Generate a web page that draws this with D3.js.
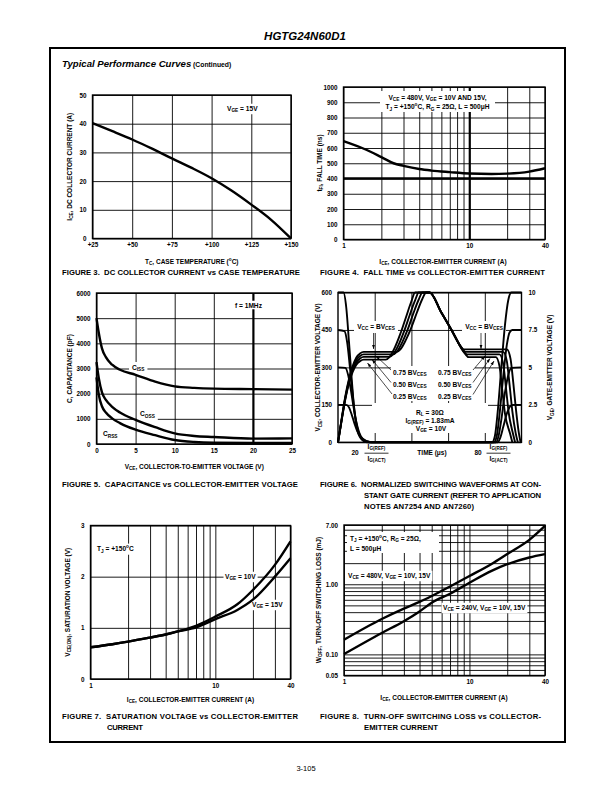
<!DOCTYPE html>
<html><head><meta charset="utf-8">
<script src="https://cdn.jsdelivr.net/npm/d3@7"></script>
<style>
body{margin:0;background:#fff}
svg{display:block}
text{font-family:"Liberation Sans",Arial,Helvetica,sans-serif;fill:#000}
</style></head><body>
<svg id="page" width="612" height="792"></svg>
<script>
// ---------------- DATA ----------------
// Figure 3: DC collector current vs case temperature
const fig3Temp    = [25, 37.5, 50, 62.5, 75, 87.5, 100, 112.5, 125, 137.5, 150];
const fig3Current = [40.2, 37.4, 34.5, 31.3, 27.9, 24.6, 21, 16.7, 11.8, 6.5, 0];
const fig3XTicks  = [25, 50, 75, 100, 125, 150];
const fig3XLabels = ["+25", "+50", "+75", "+100", "+125", "+150"];
const fig3YTicks  = [0, 10, 20, 30, 40, 50];

// Figure 4: fall time vs collector-emitter current
const fig4Current   = [1, 1.5, 2, 2.5, 3, 4, 5, 7, 10, 15, 20, 30, 40];
const fig4FallTime  = [645, 590, 540, 500, 483, 462, 452, 442, 433, 430, 432, 445, 467];
const fig4FlatCurrent = [1, 40];
const fig4FlatTime    = [400, 400];
const fig4YTicks  = [0, 100, 200, 300, 400, 500, 600, 700, 800, 900, 1000];
const logGrid40   = [1, 2, 3, 4, 5, 6, 7, 8, 9, 10, 20, 30, 40];
const logXTicks   = [1, 10, 40];
const logXLabels  = ["1", "10", "40"];

// Figure 5: capacitance vs collector-emitter voltage
const fig5Voltage = [0, 0.3, 0.7, 1.2, 2, 3, 5, 7.5, 10, 12.5, 15, 20, 25];
const fig5Ciss    = [5000, 4400, 3800, 3450, 3150, 2950, 2750, 2480, 2290, 2230, 2200, 2180, 2160];
const fig5Coss    = [3250, 2600, 2050, 1750, 1480, 1250, 960, 670, 420, 320, 280, 215, 225];
const fig5Crss    = [2650, 1950, 1500, 1250, 1020, 830, 570, 350, 160, 80, 50, 40, 40];
const fig5XTicks  = [0, 5, 10, 15, 20, 25];
const fig5YTicks  = [0, 1000, 2000, 3000, 4000, 5000, 6000];

// Figure 6: normalized switching waveforms  [time (0-100), V_CE scale 0-600]
const fig6VceBV  = [[0,600],[3,600],[4.5,540],[6,400],[7.5,250],[9,120],[10.5,50],[12.5,15],[16,0],[84,0],[85.5,25],[87,120],[89,300],[91,470],[92.8,570],[94.5,600],[100,600]];
const fig6Vce075 = [[0,450],[3.5,445],[5,400],[6.5,300],[8,190],[9.5,100],[11,45],[13,15],[17,0],[85,0],[86.5,25],[88,110],[90,260],[92,390],[93.5,440],[95,450],[100,450]];
const fig6Vce050 = [[0,300],[4,298],[5.5,270],[7,210],[8.5,140],[10,80],[11.5,40],[13.5,14],[18,0],[86,0],[87.5,25],[89,90],[91,200],[93,275],[94.5,298],[100,300]];
const fig6Vce025 = [[0,150],[4.5,150],[6,140],[7.5,110],[9,75],[10.5,45],[12.5,20],[15,6],[19,0],[87,0],[88.5,20],[90,60],[92,115],[94,145],[95.5,150],[100,150]];
const fig6VgeBV  = [[0,0],[2,95],[4,185],[6,255],[8,305],[10,340],[12,356],[14,362],[32,362],[34,372],[37,410],[40,460],[43,520],[46,575],[48,600],[50,600],[56,524],[62,448],[66.8,385],[68.5,372],[92,372],[94,335],[95.5,240],[97,130],[98.5,40],[99.5,0]];
const fig6Vge075 = [[0,0],[2,92],[4,180],[6,248],[8,298],[10,330],[12,346],[14,352],[30,352],[32,362],[35,400],[38,452],[41,515],[44,572],[46,600],[50,600],[56,524],[62,448],[67.6,376],[69.5,362],[90,362],[92,325],[93.5,230],[95,125],[96.8,38],[98,0]];
const fig6Vge050 = [[0,0],[2,90],[4,176],[6,242],[8,290],[10,321],[12,336],[14,342],[28,342],[30,352],[33,390],[36,444],[39,508],[42,568],[44,600],[50,600],[56,524],[62,448],[68.3,366],[70.3,352],[88,352],[90,315],[91.5,220],[93,120],[95.3,36],[96.5,0]];
const fig6Vge025 = [[0,0],[2,88],[4,172],[6,236],[8,282],[10,311],[12,325],[14,331],[26,331],[28,341],[31,380],[34,435],[37,500],[40,565],[42,600],[50,600],[56,524],[62,448],[69.2,355],[71.2,341],[86,341],[88,305],[89.5,210],[91,115],[93.8,34],[95,0]];
const fig6LeftTicks  = [0, 150, 300, 450, 600];
const fig6RightTicks = [0, 2.5, 5, 7.5, 10];
const fig6TimeGrid   = [20, 40, 60, 80];

// Figure 7: saturation voltage vs collector-emitter current
const fig7Current = [1, 1.5, 2, 3, 4, 5, 7, 10, 15, 20, 30, 40];
const fig7Vge10   = [0.62, 0.68, 0.73, 0.81, 0.87, 0.93, 1.04, 1.22, 1.46, 1.74, 2.23, 2.69];
const fig7Vge15   = [0.62, 0.68, 0.73, 0.81, 0.87, 0.93, 1.01, 1.17, 1.35, 1.55, 2.0, 2.36];
const fig7YTicks  = [0, 1, 2, 3];

// Figure 8: turn-off switching loss vs collector-emitter current
const fig8Current = [1, 2, 3, 4, 5, 7, 10, 15, 20, 30, 40];
const fig8E480    = [0.162, 0.32, 0.45, 0.56, 0.68, 0.93, 1.31, 1.95, 2.7, 4.3, 6.8];
const fig8E240    = [0.101, 0.202, 0.297, 0.41, 0.545, 0.733, 1.05, 1.55, 1.93, 2.41, 2.69];
const fig8YGrid   = [0.05, 0.06, 0.07, 0.08, 0.09, 0.1, 0.2, 0.3, 0.4, 0.5, 0.6, 0.7, 0.8, 0.9, 1, 2, 3, 4, 5, 6, 7];
const fig8YTicks  = [0.05, 0.1, 1, 7];
const fig8YLabels = ["0.05", "0.10", "1.00", "7.00"];

// ---------------- HELPERS ----------------
const svg = d3.select('#page');
const FONT = '"Liberation Sans", Arial, Helvetica, sans-serif';
const defs = svg.append('defs');
defs.append('marker').attr('id','arr').attr('viewBox','0 0 10 10').attr('refX',10).attr('refY',5)
  .attr('markerWidth',6).attr('markerHeight',6).attr('orient','auto')
  .append('path').attr('d','M0,1.5L10,5L0,8.5z').attr('fill','#000');

function rich(parent, x, y, str, o = {}) {
  const size = o.size || 6.5;
  const t = parent.append('text').attr('x', x).attr('y', y)
    .attr('font-size', size).attr('text-anchor', o.anchor || 'start')
    .attr('font-weight', o.weight || 'bold').style('white-space', 'pre');
  if (o.italic) t.attr('font-style', 'italic');
  if (o.rotate) t.attr('transform', `rotate(${o.rotate},${x},${y})`);
  const re = /([_^])\{([^}]*)\}/g;
  let last = 0, m; const parts = [];
  while ((m = re.exec(str))) {
    if (m.index > last) parts.push(['n', str.slice(last, m.index)]);
    parts.push([m[1], m[2]]); last = re.lastIndex;
  }
  if (last < str.length) parts.push(['n', str.slice(last)]);
  let shift = 0;
  parts.forEach(([k, s]) => {
    const ts = t.append('tspan').text(s);
    const target = k === '_' ? size * 0.3 : k === '^' ? -size * 0.4 : 0;
    if (target !== shift) ts.attr('dy', target - shift);
    shift = target;
    if (k !== 'n') ts.attr('font-size', size * 0.72);
  });
  return t;
}
function layers() {
  const g = svg.append('g');
  return { grid: g.append('g'), bg: g.append('g'), data: g.append('g'), text: g.append('g') };
}
function note(c, x, y, str, o = {}) {
  const t = rich(c.text, x, y, str, Object.assign({ size: 6.6 }, o));
  const b = t.node().getBBox(), p = o.pad == null ? 1.5 : o.pad;
  c.bg.append('rect').attr('x', b.x - p).attr('y', b.y - p * 0.5).attr('width', b.width + 2 * p)
    .attr('height', b.height + p).attr('fill', '#fff');
  return t;
}
function whiteBox(c, x0, y0, x1, y1) {
  c.bg.append('rect').attr('x', x0).attr('y', y0).attr('width', x1 - x0).attr('height', y1 - y0).attr('fill', '#fff');
}
function gridX(g, x, vals, T, B, sw, thick) {
  const a = g.append('g').attr('transform', `translate(0,${B})`)
    .call(d3.axisBottom(x).tickValues(vals).tickSize(-(B - T)).tickFormat(''));
  a.select('.domain').remove();
  a.selectAll('line').attr('stroke', '#000').attr('stroke-width', d => (thick && thick.includes(d)) ? 2.2 : (sw || 0.9));
}
function gridY(g, y, vals, L, R, sw) {
  const a = g.append('g').attr('transform', `translate(${L},0)`)
    .call(d3.axisLeft(y).tickValues(vals).tickSize(-(R - L)).tickFormat(''));
  a.select('.domain').remove();
  a.selectAll('line').attr('stroke', '#000').attr('stroke-width', sw || 0.9);
}
function frameRect(g, L, T, R, B) {
  g.append('rect').attr('x', L).attr('y', T).attr('width', R - L).attr('height', B - T)
    .attr('fill', 'none').attr('stroke', '#000').attr('stroke-width', 1.4);
}
function styleLabels(a) {
  a.select('.domain').remove();
  a.attr('font-family', FONT).attr('font-size', 6.3).attr('font-weight', 'bold');
  a.selectAll('text').attr('fill', '#000');
}
function labelsX(g, x, vals, labels, B, pad) {
  const a = g.append('g').attr('transform', `translate(0,${B})`)
    .call(d3.axisBottom(x).tickValues(vals).tickSize(0).tickPadding(pad).tickFormat((d, i) => labels[i]));
  styleLabels(a);
}
function labelsY(g, y, vals, labels, L, pad, right) {
  const ax = right ? d3.axisRight(y) : d3.axisLeft(y);
  const a = g.append('g').attr('transform', `translate(${L},0)`)
    .call(ax.tickValues(vals).tickSize(0).tickPadding(pad).tickFormat((d, i) => labels[i]));
  styleLabels(a);
}
function curve(g, x, y, xs, ys, sw) {
  const pts = xs.map((d, i) => [d, ys[i]]);
  g.append('path').datum(pts).attr('fill', 'none').attr('stroke', '#000').attr('stroke-width', sw || 2.2)
    .attr('stroke-linejoin', 'round')
    .attr('d', d3.line().x(d => x(d[0])).y(d => y(d[1])).curve(d3.curveMonotoneX));
}
function curvePairs(g, x, y, pts, sw) {
  g.append('path').datum(pts).attr('fill', 'none').attr('stroke', '#000').attr('stroke-width', sw || 2)
    .attr('stroke-linejoin', 'round')
    .attr('d', d3.line().x(d => x(d[0])).y(d => y(d[1])).curve(d3.curveMonotoneX));
}
function caption(g, x, y, str, w) {
  return g.append('text').attr('x', x).attr('y', y).attr('font-size', 7.7).attr('font-weight', 'bold')
    .attr('textLength', w).attr('lengthAdjust', 'spacing').style('white-space', 'pre').text(str);
}

// ---------------- PAGE ----------------
svg.append('rect').attr('x', 50).attr('y', 48).attr('width', 515).attr('height', 694)
  .attr('fill', 'none').attr('stroke', '#000').attr('stroke-width', 2);
rich(svg, 305, 39.5, 'HGTG24N60D1', { size: 11.5, anchor: 'middle', italic: true });
const tpc = svg.append('text').attr('x', 62).attr('y', 66.5).attr('font-weight', 'bold');
tpc.append('tspan').attr('font-size', 9.6).attr('font-style', 'italic').text('Typical Performance Curves');
tpc.append('tspan').attr('font-size', 6.8).text(' (Continued)');
rich(svg, 306, 771, '3-105', { size: 7.5, anchor: 'middle', weight: 'normal' });

// ---------------- FIGURE 3 ----------------
{
  const L = 92.5, R = 291, T = 95, B = 238.5;
  const x = d3.scaleLinear().domain([25, 150]).range([L, R]);
  const y = d3.scaleLinear().domain([0, 50]).range([B, T]);
  const c = layers();
  gridX(c.grid, x, fig3XTicks, T, B);
  gridY(c.grid, y, fig3YTicks, L, R);
  frameRect(c.grid, L, T, R, B);
  labelsX(c.text, x, fig3XTicks, fig3XLabels, B, 4.5);
  labelsY(c.text, y, fig3YTicks, fig3YTicks.map(String), L, 6);
  curve(c.data, x, y, fig3Temp, fig3Current, 2.4);
  note(c, 227, 110.5, 'V_{GE} = 15V');
  rich(c.text, 71.5, (T + B) / 2, 'I_{CE}, DC COLLECTOR CURRENT (A)', { rotate: -90, anchor: 'middle' });
  rich(c.text, (L + R) / 2, 263.5, 'T_{C}, CASE TEMPERATURE (^{o}C)', { anchor: 'middle' });
  caption(c.text, 62, 275, 'FIGURE 3.  DC COLLECTOR CURRENT vs CASE TEMPERATURE', 238);
}

// ---------------- FIGURE 4 ----------------
{
  const L = 343.5, R = 545, T = 87, B = 239.5;
  const x = d3.scaleLog().domain([1, 40]).range([L, R]);
  const y = d3.scaleLinear().domain([0, 1000]).range([B, T]);
  const c = layers();
  gridX(c.grid, x, logGrid40, T, B, 0.9, [10]);
  gridY(c.grid, y, fig4YTicks, L, R);
  frameRect(c.grid, L, T, R, B);
  labelsX(c.text, x, logXTicks, logXLabels, B, 4.5);
  labelsY(c.text, y, fig4YTicks, fig4YTicks.map(String), L, 6);
  curve(c.data, x, y, fig4FlatCurrent, fig4FlatTime, 2.4);
  curve(c.data, x, y, fig4Current, fig4FallTime, 2.4);
  whiteBox(c, 380, 91, 495, 112);
  rich(c.text, 437.5, 99.5, 'V_{CE} = 480V, V_{GE} = 10V AND 15V,', { anchor: 'middle', size: 6.6 });
  rich(c.text, 437.5, 109, 'T_{J} = +150^{o}C, R_{G} = 25Ω, L = 500μH', { anchor: 'middle', size: 6.6 });
  rich(c.text, 321.5, 163, 't_{FI}, FALL TIME (ns)', { rotate: -90, anchor: 'middle' });
  rich(c.text, 443, 263.5, 'I_{CE}, COLLECTOR-EMITTER CURRENT (A)', { anchor: 'middle' });
  caption(c.text, 320, 275, 'FIGURE 4.  FALL TIME vs COLLECTOR-EMITTER CURRENT', 225);
}

// ---------------- FIGURE 5 ----------------
{
  const L = 96.5, R = 292, T = 293, B = 444;
  const x = d3.scaleLinear().domain([0, 25]).range([L, R]);
  const y = d3.scaleLinear().domain([0, 6000]).range([B, T]);
  const c = layers();
  gridX(c.grid, x, fig5XTicks, T, B, 0.9, [20]);
  gridY(c.grid, y, fig5YTicks, L, R);
  frameRect(c.grid, L, T, R, B);
  labelsX(c.text, x, fig5XTicks, fig5XTicks.map(String), B, 4.5);
  labelsY(c.text, y, fig5YTicks, fig5YTicks.map(String), L, 6);
  curve(c.data, x, y, fig5Voltage, fig5Ciss, 2.4);
  curve(c.data, x, y, fig5Voltage, fig5Coss, 2.4);
  curve(c.data, x, y, fig5Voltage, fig5Crss, 2.4);
  note(c, 235, 307.5, 'f = 1MHz');
  note(c, 132, 369.5, 'C_{ISS}', { pad: 3 });
  note(c, 140, 416, 'C_{OSS}', { pad: 3 });
  note(c, 103, 436, 'C_{RSS}');
  rich(c.text, 71.5, (T + B) / 2, 'C, CAPACITANCE (pF)', { rotate: -90, anchor: 'middle' });
  rich(c.text, (L + R) / 2, 468.5, 'V_{CE}, COLLECTOR-TO-EMITTER VOLTAGE (V)', { anchor: 'middle' });
  caption(c.text, 62, 487, 'FIGURE 5.  CAPACITANCE vs COLLECTOR-EMITTER VOLTAGE', 236);
}

// ---------------- FIGURE 6 ----------------
{
  const L = 338, R = 521.5, T = 292.5, B = 442.3;
  const x = d3.scaleLinear().domain([0, 100]).range([L, R]);
  const y = d3.scaleLinear().domain([0, 600]).range([B, T]);
  const yR = d3.scaleLinear().domain([0, 10]).range([B, T]);
  const c = layers();
  gridX(c.grid, x, fig6TimeGrid, T, B);
  gridY(c.grid, y, fig6LeftTicks, L, R);
  frameRect(c.grid, L, T, R, B);
  labelsY(c.text, y, fig6LeftTicks, fig6LeftTicks.map(String), L, 6);
  labelsY(c.text, yR, fig6RightTicks, fig6RightTicks.map(String), R, 7, true);
  whiteBox(c, 354, 321, 398, 333);
  whiteBox(c, 462, 321, 506, 333);
  whiteBox(c, 391, 366, 475, 401);
  whiteBox(c, 372, 403, 488, 433);
  [fig6VceBV, fig6Vce075, fig6Vce050, fig6Vce025, fig6VgeBV, fig6Vge075, fig6Vge050, fig6Vge025]
    .forEach(p => curvePairs(c.data, x, y, p, 1.9));
  rich(c.text, 376, 328.5, 'V_{CC} = BV_{CES}', { anchor: 'middle', size: 6.6 });
  rich(c.text, 484, 328.5, 'V_{CC} = BV_{CES}', { anchor: 'middle', size: 6.6 });
  const arrows = [[373.5, 333, 373.5, 349], [481, 333, 481, 349],
    [391, 370, 376, 356], [391, 382.5, 372, 359.5], [392, 394, 367.5, 363],
    [473, 370, 485, 356], [473, 382.5, 490, 358.5], [473, 394.5, 494, 361]];
  arrows.forEach(a => c.text.append('line').attr('x1', a[0]).attr('y1', a[1]).attr('x2', a[2]).attr('y2', a[3])
    .attr('stroke', '#000').attr('stroke-width', 0.7).attr('marker-end', 'url(#arr)'));
  ['0.75', '0.50', '0.25'].forEach((v, i) => {
    rich(c.text, 393, 374.5 + i * 12, v + ' BV_{CES}', { size: 6.6 });
    rich(c.text, 471.5, 374.5 + i * 12, v + ' BV_{CES}', { size: 6.6, anchor: 'end' });
  });
  rich(c.text, 430, 414.5, 'R_{L} = 30Ω', { anchor: 'middle', size: 6.6 });
  rich(c.text, 430, 422.5, 'I_{G(REF)} = 1.83mA', { anchor: 'middle', size: 6.6 });
  rich(c.text, 431, 430.5, 'V_{GE} = 10V', { anchor: 'middle', size: 6.6 });
  rich(c.text, 320.5, (T + B) / 2, 'V_{CE}, COLLECTOR-EMITTER VOLTAGE (V)', { rotate: -90, anchor: 'middle' });
  rich(c.text, 552.5, (T + B) / 2, 'V_{GE}, GATE-EMITTER VOLTAGE (V)', { rotate: -90, anchor: 'middle' });
  // time axis fraction labels
  [[355, 376.5, '20'], [478, 498.5, '80']].forEach(([nx, fx, n]) => {
    rich(c.text, nx, 455, n, { anchor: 'middle', size: 6.5 });
    rich(c.text, fx, 448.5, 'I_{G(REF)}', { anchor: 'middle', size: 6.5 });
    c.text.append('line').attr('x1', fx - 12).attr('x2', fx + 12).attr('y1', 453.2).attr('y2', 453.2)
      .attr('stroke', '#000').attr('stroke-width', 0.8);
    rich(c.text, fx, 460.5, 'I_{G(ACT)}', { anchor: 'middle', size: 6.5 });
  });
  rich(c.text, 432, 455, 'TIME (μs)', { anchor: 'middle' });
  caption(c.text, 320, 487, 'FIGURE 6.  NORMALIZED SWITCHING WAVEFORMS AT CON-', 221);
  caption(c.text, 364, 498, 'STANT GATE CURRENT (REFER TO APPLICATION', 177);
  caption(c.text, 364, 509, 'NOTES AN7254 AND AN7260)', 110);
}

// ---------------- FIGURE 7 ----------------
{
  const L = 90.5, R = 290.5, T = 525.5, B = 679;
  const x = d3.scaleLog().domain([1, 40]).range([L, R]);
  const y = d3.scaleLinear().domain([0, 3]).range([B, T]);
  const c = layers();
  gridX(c.grid, x, logGrid40, T, B);
  gridY(c.grid, y, fig7YTicks, L, R);
  frameRect(c.grid, L, T, R, B);
  labelsX(c.text, x, logXTicks, logXLabels, B, 4.8);
  labelsY(c.text, y, fig7YTicks, fig7YTicks.map(String), L, 6);
  curve(c.data, x, y, fig7Current, fig7Vge10, 2.4);
  curve(c.data, x, y, fig7Current, fig7Vge15, 2.4);
  note(c, 97, 551, 'T_{J} = +150^{o}C');
  note(c, 225, 578.5, 'V_{GE} = 10V');
  note(c, 252, 606.5, 'V_{GE} = 15V');
  rich(c.text, 69.5, (T + B) / 2, 'V_{CE(ON)}, SATURATION VOLTAGE (V)', { rotate: -90, anchor: 'middle' });
  rich(c.text, (L + R) / 2, 701.5, 'I_{CE}, COLLECTOR-EMITTER CURRENT (A)', { anchor: 'middle' });
  caption(c.text, 62, 719, 'FIGURE 7.  SATURATION VOLTAGE vs COLLECTOR-EMITTER', 236);
  caption(c.text, 107, 730, 'CURRENT', 36);
}

// ---------------- FIGURE 8 ----------------
{
  const L = 344, R = 545, T = 525, B = 675.5;
  const x = d3.scaleLog().domain([1, 40]).range([L, R]);
  const y = d3.scaleLog().domain([0.05, 7]).range([B, T]);
  const c = layers();
  gridX(c.grid, x, logGrid40, T, B);
  gridY(c.grid, y, fig8YGrid, L, R);
  frameRect(c.grid, L, T, R, B);
  labelsX(c.text, x, logXTicks, logXLabels, B, 4.5);
  labelsY(c.text, y, fig8YTicks, fig8YLabels, L, 6);
  curve(c.data, x, y, fig8Current, fig8E480, 2.4);
  curve(c.data, x, y, fig8Current, fig8E240, 2.4);
  whiteBox(c, 347, 532, 439, 553);
  rich(c.text, 350, 540.5, 'T_{J} = +150^{o}C, R_{G} = 25Ω,', { size: 6.6 });
  rich(c.text, 350, 550.5, 'L = 500μH', { size: 6.6 });
  note(c, 348, 577.5, 'V_{CE} = 480V, V_{GE} = 10V, 15V');
  note(c, 443, 609.5, 'V_{CE} = 240V, V_{GE} = 10V, 15V');
  rich(c.text, 320.5, 600, 'W_{OFF}, TURN-OFF SWITCHING LOSS (mJ)', { rotate: -90, anchor: 'middle' });
  rich(c.text, 444, 699.5, 'I_{CE}, COLLECTOR-EMITTER CURRENT (A)', { anchor: 'middle' });
  caption(c.text, 320, 719, 'FIGURE 8.  TURN-OFF SWITCHING LOSS vs COLLECTOR-', 221);
  caption(c.text, 364, 730, 'EMITTER CURRENT', 74);
}
</script>
</body></html>
